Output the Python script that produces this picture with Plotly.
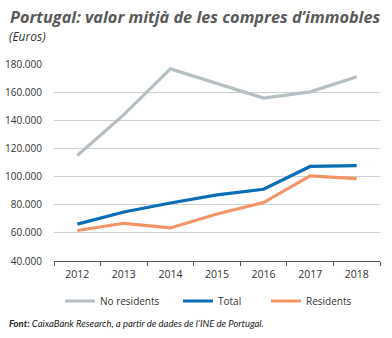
import plotly.graph_objects as go

years = ["2012", "2013", "2014", "2015", "2016", "2017", "2018"]
no_residents = [115000, 144000, 176500, 166000, 155800, 160200, 171000]
total = [66200, 74800, 81200, 87000, 91000, 107200, 107800]
residents = [61700, 66800, 63500, 73400, 81500, 100500, 98500]

y_ticks = [40000, 60000, 80000, 100000, 120000, 140000, 160000, 180000]

series = [
    ("No residents", no_residents, "#B6C0C4", "legend", 62),
    ("Total", total, "#0A6DB5", "legend2", 180),
    ("Residents", residents, "#F39467", "legend3", 268),
]

W, H = 392, 338
L, R, T, B = 54, 12, 64, 77
pw, ph = W - L - R, H - T - B


def px(x):
    return (x - L) / pw


def py(y):
    return (H - B - y) / ph


fig = go.Figure()
legends = {}
for name, vals, color, leg, lx in series:
    fig.add_trace(go.Scatter(
        x=years, y=vals, name=name, mode="lines", legend=leg,
        line=dict(color=color, width=3.2),
    ))
    legends[leg] = dict(
        orientation="h", x=px(lx - 2), xanchor="left", y=py(301),
        yanchor="middle", font=dict(size=10, color="#333333"),
        bgcolor="rgba(0,0,0,0)", borderwidth=0,
    )

fig.update_layout(
    width=W, height=H,
    margin=dict(l=L, r=R, t=T, b=B, autoexpand=False),
    paper_bgcolor="white", plot_bgcolor="white",
    separators=",.",
    font=dict(family="Open Sans", size=10, color="#333333"),
    showlegend=True,
    xaxis=dict(
        type="category", range=[-0.5, 6.5], showgrid=False, showline=True,
        linecolor="#555555", linewidth=1, ticks="outside",
        tickson="boundaries", ticklen=4, tickcolor="#555555",
        tickfont=dict(size=10.5), ticklabelstandoff=3, automargin=False,
    ),
    yaxis=dict(
        range=[40000, 180000], tickvals=y_ticks, tickformat=",.0f",
        showgrid=True, gridcolor="#D0D0D0", gridwidth=1, zeroline=False,
        showline=False, ticks="", tickfont=dict(size=10), ticklabelstandoff=11,
        automargin=False,
    ),
    annotations=[
        dict(text="<b><i>Portugal: valor mitjà de les compres d’immobles</i></b>",
             xref="paper", yref="paper", x=px(8), y=py(17), xanchor="left",
             yanchor="middle", showarrow=False,
             font=dict(family="Open Sans", size=16.3, color="#5A5A5A")),
        dict(text="<i>(Euros)</i>",
             xref="paper", yref="paper", x=px(7), y=py(36), xanchor="left",
             yanchor="middle", showarrow=False,
             font=dict(family="Open Sans", size=12, color="#333333")),
        dict(text="<b><i>Font:</i></b><i> CaixaBank Research, a partir de dades de l’INE de Portugal.</i>",
             xref="paper", yref="paper", x=px(7), y=py(323), xanchor="left",
             yanchor="middle", showarrow=False,
             font=dict(family="Lato", size=9.5, color="#222222")),
    ],
    **legends,
)

fig.write_html("out.html")
